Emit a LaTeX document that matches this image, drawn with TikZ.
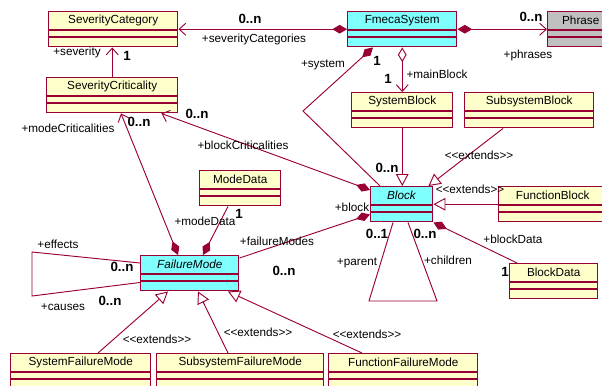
\documentclass[tikz,border=0pt]{standalone}
\usepackage{fontspec}
\setmainfont{Liberation Sans}
\usetikzlibrary{arrows.meta,calc}

\definecolor{umlborder}{RGB}{153,0,51}
\definecolor{umlyellow}{RGB}{255,255,204}
\definecolor{umlcyan}{RGB}{128,255,255}
\definecolor{umlgrey}{RGB}{192,192,192}

\tikzset{
  classbox/.style={draw=umlborder, line width=1.1pt, inner sep=0pt, minimum height=26.25pt, anchor=north west},
  classline/.style={draw=umlborder, line width=0.9pt},
  cname/.style={inner sep=0.75pt},
  assoc/.style={draw=umlborder, line width=0.7pt},
  lbl/.style={inner sep=0.75pt},
  mult/.style={inner sep=0.75pt, font=\bfseries},
  compo/.tip={Diamond[length=11pt,width=6.5pt,fill=umlborder]},
  aggr/.tip={Diamond[length=11pt,width=6.5pt,fill=white]},
  nav/.tip={Straight Barb[length=5pt,width=9pt]},
  gen/.tip={Triangle[length=9pt,width=9.5pt,fill=white]},
}

% class box: name, fill, left, top, width, title
\newcommand{\umlclass}[6]{%
  \node[classbox, fill=#2, minimum width=#5*0.75pt] (#1) at (#3,#4) {};
  \draw[classline] ($(#1.north west)+(0,19)$) -- ($(#1.north east)+(0,19)$);
  \draw[classline] ($(#1.north west)+(0,26)$) -- ($(#1.north east)+(0,26)$);
  \node[cname] (#1-title) at ($(#1.north)+(0,9.5)$) {#6};
}
\newcommand{\extlabel}{<\kern0pt<extends>\kern0pt>}

\begin{document}
\begin{tikzpicture}[x=0.75pt,y=0.75pt,yscale=-1,xscale=1,font=\fontsize{8.8}{10}\selectfont]
\clip (0,0) rectangle (602,385);

%Shape: Classes
\umlclass{sevcat}{umlyellow}{48}{11}{129}{SeverityCategory}
\umlclass{sevcrit}{umlyellow}{46}{77}{131}{SeverityCriticality}
\umlclass{fmeca}{umlcyan}{347}{11}{109}{FmecaSystem}
\umlclass{phrase}{umlgrey}{547}{11}{66}{Phrase}
\umlclass{sysblock}{umlyellow}{351}{92}{101}{SystemBlock}
\umlclass{subblock}{umlyellow}{464}{92}{129}{SubsystemBlock}
\umlclass{block}{umlcyan}{370}{186}{62}{\textit{Block}}
\umlclass{funcblock}{umlyellow}{498}{186}{108}{FunctionBlock}
\umlclass{blockdata}{umlyellow}{509}{263}{88}{BlockData}
\umlclass{modedata}{umlyellow}{199}{170}{81}{ModeData}
\umlclass{failmode}{umlcyan}{140}{255}{98}{\textit{FailureMode}}
\umlclass{sysfm}{umlyellow}{10}{353}{140}{SystemFailureMode}
\umlclass{subfm}{umlyellow}{156}{353}{167}{SubsystemFailureMode}
\umlclass{funcfm}{umlyellow}{328}{353}{149}{FunctionFailureMode}

%Straight Lines: FmecaSystem associations
\draw[assoc, compo-nav] (fmeca.west) -- (sevcat.east);
\draw[assoc, compo-nav] (fmeca.east) -- (phrase.west);
\draw[assoc, aggr-nav] (fmeca.south) -- (sysblock.north);
\coordinate (sysbend) at (303,111);
\draw[assoc, compo-] ($(fmeca.south west)+(26,0)$) -- (sysbend) -- ($(block.north west)+(10,0)$);
%Straight Lines: SeverityCriticality to SeverityCategory
\draw[assoc, -nav] (sevcrit.north) -- (sevcrit.north |- sevcat.south);
%Straight Lines: Block generalisations
\draw[assoc, -gen] (sysblock.south) -- (sysblock.south |- block.north);
\draw[assoc, -gen] ($(subblock.south west)+(39,0)$) -- ($(block.north east)+(-5,0)$);
\draw[assoc, -gen] (funcblock.west) -- (block.east);
%Straight Lines: Block associations
\draw[assoc, compo-] (block.south east) -- ($(blockdata.north west)+(8,0)$);
\coordinate (parentcorner) at (369,301);
\coordinate (childcorner) at (437,301);
\draw[assoc] ($(block.south west)+(23,0)$) -- (parentcorner) -- (childcorner) -- ($(block.south west)+(38,0)$);
\draw[assoc, compo-nav] ($(block.north west)+(0,4)$) -- ($(sevcrit.south east)+(-17,0)$);
%Straight Lines: FailureMode associations
\draw[assoc, compo-nav] ($(failmode.north west)+(38,0)$) -- ($(sevcrit.south west)+(75,0)$);
\draw[assoc, compo-] ($(failmode.north west)+(63,0)$) -- ($(modedata.south west)+(29,0)$);
\draw[assoc, -compo] ($(failmode.north east)+(0,3)$) -- ($(block.south west)+(0,-8)$);
\coordinate (effcorner) at (32,252);
\coordinate (causecorner) at (32,296);
\draw[assoc] ($(failmode.north west)+(0,8)$) -- (effcorner) -- (causecorner) -- ($(failmode.south west)+(0,-9)$);
%Straight Lines: FailureMode generalisations
\draw[assoc, -gen] ($(sysfm.north west)+(88,0)$) -- ($(failmode.south west)+(28,0)$);
\draw[assoc, -gen] ($(subfm.north west)+(72,0)$) -- ($(failmode.south west)+(58,0)$);
\draw[assoc, -gen] ($(funcfm.north west)+(34,0)$) -- ($(failmode.south west)+(88,0)$);

% Text Node
\node[mult] (mSevCats) at (250,19) {0..n};
\node[lbl] (tSevCats) at (254,39) {+severityCategories};
\node[mult] (mPhrases) at (531,17) {0..n};
\node[lbl] (tPhrases) at (528,55) {+phrases};
\node[mult] (mMainBlock) at (388,79) {1};
\node[lbl] (tMainBlock) at (437,74) {+mainBlock};
\node[lbl] (tSystem) at (323,65) {+system};
\node[mult] (mSystem) at (377,61) {1};
\node[mult] (mSysBlocks) at (387,168) {0..n};
\node[lbl] (tSeverity) at (77,52) {+severity};
\node[mult] (mSeverity) at (127,56) {1};
\node[mult] (mBlockCrit) at (197,114) {0..n};
\node[lbl] (tBlockCrit) at (243,145) {+blockCriticalities};
\node[lbl] (tModeCrit) at (68,128) {+modeCriticalities};
\node[mult] (mModeCrit) at (139,122) {0..n};
\node[lbl] (eSubBlock) at (479,155) {\extlabel};
\node[lbl] (eFuncBlock) at (470,189) {\extlabel};
\node[lbl] (tBlockData) at (513,239) {+blockData};
\node[mult] (mBlockData) at (505,272) {1};
\node[mult] (mParent) at (377,234) {0..1};
\node[mult] (mChildren) at (425,234) {0..n};
\node[lbl] (tChildren) at (448,260) {+children};
\node[lbl] (tParent) at (357,263) {+parent};
\node[lbl] (tBlock) at (352,207) {+block};
\node[lbl] (tFailModes) at (277,241) {+failureModes};
\node[mult] (mFailModes) at (284,271) {0..n};
\node[lbl] (tModeData) at (205,221) {+modeData};
\node[mult] (mModeData) at (239,214) {1};
\node[lbl] (tEffects) at (58,244) {+effects};
\node[mult] (mEffects) at (122,267) {0..n};
\node[mult] (mCauses) at (110,301) {0..n};
\node[lbl] (tCauses) at (63,307) {+causes};
\node[lbl] (eSysFm) at (157,339) {\extlabel};
\node[lbl] (eSubFm) at (258,332) {\extlabel};
\node[lbl] (eFuncFm) at (367,334) {\extlabel};

\end{tikzpicture}
\end{document}
